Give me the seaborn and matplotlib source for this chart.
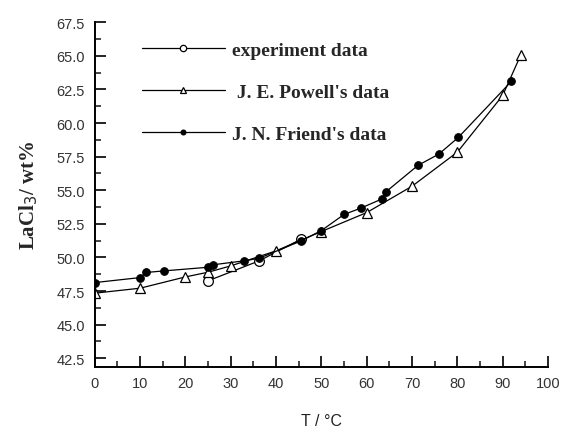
# LaCl3 solubility in water vs temperature, three data sources
import numpy as np
import pandas as pd
import matplotlib
matplotlib.use("Agg")
import matplotlib.pyplot as plt
from matplotlib.ticker import MultipleLocator
import seaborn as sns

# Data
exp_t = [25, 36.3, 45.5]
exp_w = [48.26, 49.75, 51.36]

powell_t = [0, 10, 20, 25, 30, 40, 50, 60, 70, 80, 90, 94]
powell_w = [47.34, 47.71, 48.55, 48.9, 49.37, 50.49, 51.93, 53.34, 55.3, 57.84, 62.06, 65.08]

friend_t = [0, 10, 11.3, 15.3, 25, 26, 33, 36.3, 45.5, 50, 55, 58.7, 63.4, 64.3, 71.3, 75.9, 80.2, 91.9]
friend_w = [48.13, 48.5, 48.88, 49.0, 49.27, 49.45, 49.75, 49.94, 51.23, 52.0, 53.2, 53.67,
            54.36, 54.9, 56.85, 57.69, 58.93, 63.1]

labels = ["experiment data", " J. E. Powell's data", "J. N. Friend's data"]

sns.set_style("ticks")
plt.rcParams['font.family'] = ['Liberation Sans', 'DejaVu Sans']

fig = plt.figure(figsize=(5.65, 4.31), dpi=100)
ax = fig.add_axes([0.1676, 0.1469, 0.8024, 0.7990])

sns.lineplot(x=exp_t, y=exp_w, ax=ax, sort=False, color='black', lw=0.9,
             marker='o', markersize=7, markerfacecolor='white',
             markeredgecolor='black', markeredgewidth=0.9, label=labels[0])
sns.lineplot(x=powell_t, y=powell_w, ax=ax, sort=False, color='black', lw=0.9,
             marker='^', markersize=6.5, markerfacecolor='white',
             markeredgecolor='black', markeredgewidth=0.9, label=labels[1])
sns.lineplot(x=friend_t, y=friend_w, ax=ax, sort=False, color='black', lw=0.9,
             marker='o', markersize=5.5, markerfacecolor='black',
             markeredgecolor='black', label=labels[2])

ax.set_xlim(0, 100)
ax.set_ylim(41.87, 67.5)
ax.xaxis.set_major_locator(MultipleLocator(10))
ax.xaxis.set_minor_locator(MultipleLocator(5))
ax.yaxis.set_minor_locator(MultipleLocator(1.25))
ax.set_yticks(np.arange(42.5, 67.6, 2.5))
ax.yaxis.set_major_formatter(matplotlib.ticker.FormatStrFormatter('%.1f'))

ax.tick_params(which='major', direction='in', length=8, width=1.2, labelsize=10.5, colors='black')
ax.tick_params(axis='x', which='major', pad=7)
ax.tick_params(axis='y', which='major', pad=7)
ax.tick_params(which='minor', direction='in', length=4, width=1.2)
for lbl in ax.get_xticklabels() + ax.get_yticklabels():
    lbl.set_color('#333333')

sns.despine(ax=ax)
for s in ['left', 'bottom']:
    ax.spines[s].set_linewidth(1.4)
    ax.spines[s].set_color('black')

ax.set_xlabel("T / °C", fontsize=11.5, labelpad=16, color='#222222')
ax.set_ylabel("LaCl$_3$/ wt%", fontsize=15, fontweight='bold', family='Liberation Serif',
              labelpad=12)

leg = ax.legend(loc='upper left', bbox_to_anchor=(0.065, 0.995), frameon=False,
                handlelength=4.3, handletextpad=0.35, labelspacing=1.25, markerscale=0.65,
                prop={'family': 'Liberation Serif', 'weight': 'bold', 'size': 14})

fig.savefig("out.png", dpi=100)
